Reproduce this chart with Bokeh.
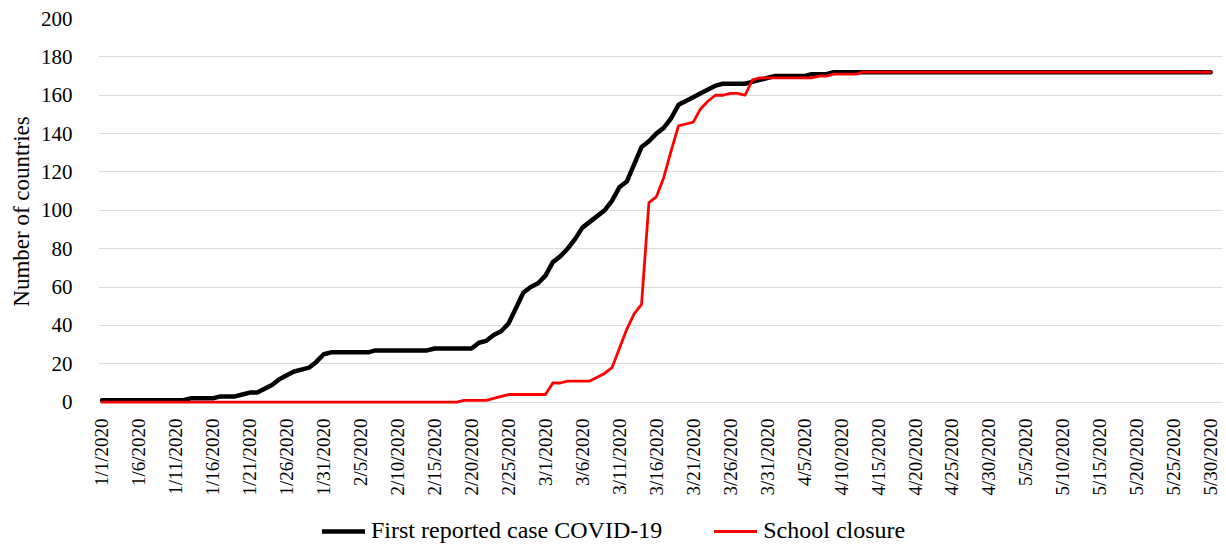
from bokeh.plotting import figure
from bokeh.layouts import column
from bokeh.models import Range1d, FixedTicker, Legend, LegendItem
from bokeh.embed import file_html
from bokeh.resources import INLINE

# Tick labels (every 5 days from 1/1/2020) and their day offsets
tick_labels = ["1/1/2020", "1/6/2020", "1/11/2020", "1/16/2020", "1/21/2020", "1/26/2020",
               "1/31/2020", "2/5/2020", "2/10/2020", "2/15/2020", "2/20/2020", "2/25/2020",
               "3/1/2020", "3/6/2020", "3/11/2020", "3/16/2020", "3/21/2020", "3/26/2020",
               "3/31/2020", "4/5/2020", "4/10/2020", "4/15/2020", "4/20/2020", "4/25/2020",
               "4/30/2020", "5/5/2020", "5/10/2020", "5/15/2020", "5/20/2020", "5/25/2020",
               "5/30/2020"]
tick_days = [0, 5, 10, 15, 20, 25, 30, 35, 40, 45, 50, 55, 60, 65, 70, 75, 80, 85, 90, 95,
             100, 105, 110, 115, 120, 125, 130, 135, 140, 145, 150]
y_ticks = [0, 20, 40, 60, 80, 100, 120, 140, 160, 180, 200]

series_names = ["First reported case COVID-19", "School closure"]

# Number of countries, daily from 1/1/2020 to 5/30/2020
first_case = [
    1, 1, 1, 1, 1, 1, 1, 1, 1, 1,
    1, 1, 2, 2, 2, 2, 3, 3, 3, 4,
    5, 5, 7, 9, 12, 14, 16, 17, 18, 21,
    25, 26, 26, 26, 26, 26, 26, 27, 27, 27,
    27, 27, 27, 27, 27, 28, 28, 28, 28, 28,
    28, 31, 32, 35, 37, 41, 49, 57, 60, 62,
    66, 73, 76, 80, 85, 91, 94, 97, 100, 105,
    112, 115, 124, 133, 136, 140, 143, 148, 155, 157,
    159, 161, 163, 165, 166, 166, 166, 166, 167, 168,
    169, 170, 170, 170, 170, 170, 171, 171, 171, 172,
    172, 172, 172, 172, 172, 172, 172, 172, 172, 172,
    172, 172, 172, 172, 172, 172, 172, 172, 172, 172,
    172, 172, 172, 172, 172, 172, 172, 172, 172, 172,
    172, 172, 172, 172, 172, 172, 172, 172, 172, 172,
    172, 172, 172, 172, 172, 172, 172, 172, 172, 172,
    172,
]
school_closure = [
    0, 0, 0, 0, 0, 0, 0, 0, 0, 0,
    0, 0, 0, 0, 0, 0, 0, 0, 0, 0,
    0, 0, 0, 0, 0, 0, 0, 0, 0, 0,
    0, 0, 0, 0, 0, 0, 0, 0, 0, 0,
    0, 0, 0, 0, 0, 0, 0, 0, 0, 1,
    1, 1, 1, 2, 3, 4, 4, 4, 4, 4,
    4, 10, 10, 11, 11, 11, 11, 13, 15, 18,
    28, 38, 46, 51, 104, 107, 117, 131, 144, 145,
    146, 153, 157, 160, 160, 161, 161, 160, 168, 169,
    169, 169, 169, 169, 169, 169, 169, 170, 170, 171,
    171, 171, 171, 172, 172, 172, 172, 172, 172, 172,
    172, 172, 172, 172, 172, 172, 172, 172, 172, 172,
    172, 172, 172, 172, 172, 172, 172, 172, 172, 172,
    172, 172, 172, 172, 172, 172, 172, 172, 172, 172,
    172, 172, 172, 172, 172, 172, 172, 172, 172, 172,
    172,
]
days = list(range(len(first_case)))  # day offset from 1/1/2020

FONT = "Liberation Serif"
BLACK_STYLE = dict(line_color="black", line_width=4.5, line_cap="round", line_join="round")
RED_STYLE = dict(line_color="#ff0000", line_width=2.8, line_cap="round", line_join="round")

p = figure(width=1226, height=505,
           x_range=Range1d(-0.47, 151.6), y_range=Range1d(-1.2, 200),
           output_backend="svg", toolbar_location=None,
           min_border_left=98, min_border_right=4, min_border_top=18, min_border_bottom=101,
           background_fill_color="white", border_fill_color="white")
p.outline_line_color = None

p.line(days, first_case, **BLACK_STYLE)
p.line(days, school_closure, **RED_STYLE)

# axes
p.xaxis.ticker = FixedTicker(ticks=tick_days)
p.xaxis.major_label_overrides = {d: s for d, s in zip(tick_days, tick_labels)}
p.xaxis.major_label_orientation = 1.5707963
p.xaxis.major_label_text_font = FONT
p.xaxis.major_label_text_font_size = "19px"
p.xaxis.major_label_text_color = "black"
p.xaxis.major_label_standoff = 8
p.xaxis.major_tick_line_color = None
p.xaxis.minor_tick_line_color = None
p.xaxis.axis_line_color = None

p.yaxis.ticker = FixedTicker(ticks=y_ticks)
p.yaxis.major_label_text_font = FONT
p.yaxis.major_label_text_font_size = "21px"
p.yaxis.major_label_text_color = "black"
p.yaxis.major_label_standoff = 20
p.yaxis.major_tick_line_color = None
p.yaxis.minor_tick_line_color = None
p.yaxis.axis_line_color = None
p.yaxis.axis_label = "Number of countries"
p.yaxis.axis_label_text_font = FONT
p.yaxis.axis_label_text_font_size = "23px"
p.yaxis.axis_label_text_font_style = "normal"
p.yaxis.axis_label_text_color = "black"
p.yaxis.axis_label_standoff = 4

p.xgrid.grid_line_color = None
p.ygrid.ticker = FixedTicker(ticks=y_ticks)
p.ygrid.grid_line_color = "#dcdcdc"
p.ygrid.grid_line_width = 1

# legend strip below the chart (its series renderers lie outside its visible ranges)
lg = figure(width=1226, height=49, x_range=Range1d(1000, 1001), y_range=Range1d(1000, 1001),
            output_backend="svg", toolbar_location=None,
            x_axis_location=None, y_axis_location=None,
            min_border_left=0, min_border_right=0, min_border_top=0, min_border_bottom=0,
            background_fill_color="white", border_fill_color="white")
lg.outline_line_color = None
lg.grid.visible = False
k1 = lg.line(days, first_case, **BLACK_STYLE)
k2 = lg.line(days, school_closure, **RED_STYLE)
legend = Legend(items=[LegendItem(label=series_names[0], renderers=[k1]),
                       LegendItem(label=series_names[1], renderers=[k2])],
                orientation="horizontal", location=(224, 10),
                glyph_width=43, glyph_height=20, label_standoff=6, spacing=52,
                padding=0, margin=0, border_line_color=None, background_fill_alpha=0,
                label_text_font=FONT, label_text_font_size="24px", label_text_color="black")
lg.add_layout(legend, "center")

layout = column(p, lg, spacing=0)
open("out.html", "w").write(file_html(layout, INLINE))
